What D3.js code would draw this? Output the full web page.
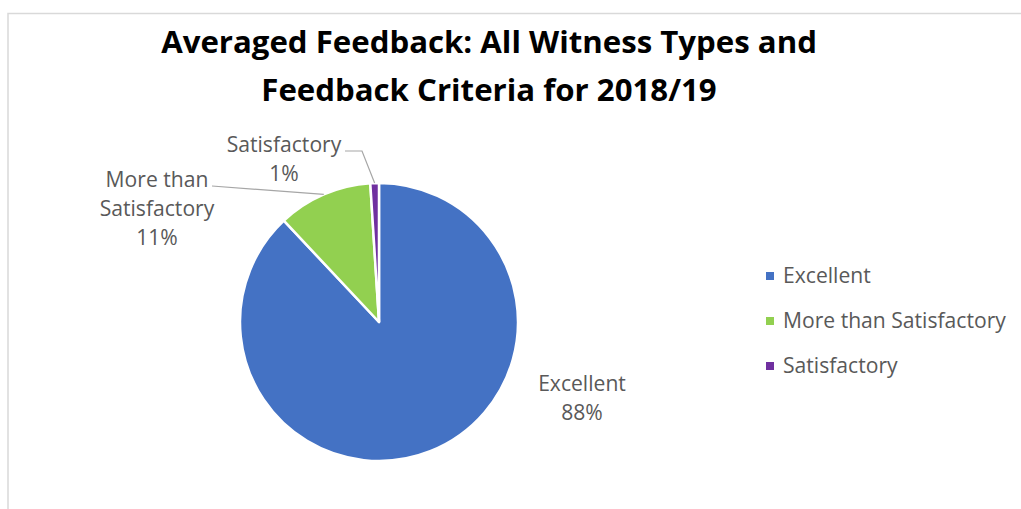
<!DOCTYPE html>
<html>
<head>
<meta charset="utf-8">
<script src="https://cdn.jsdelivr.net/npm/d3@7"></script>
<style>
  body { margin: 0; background: #fff; }
  svg { display: block; }
</style>
</head>
<body>
<div id="chart"></div>
<script>
// chart data
var categories = ["Excellent", "More than Satisfactory", "Satisfactory"];
var values = [88, 11, 1];
var titleLines = ["Averaged Feedback: All Witness Types and", "Feedback Criteria for 2018/19"];
var labelLines = [["Excellent", "88%"], ["More than", "Satisfactory", "11%"], ["Satisfactory", "1%"]];

var width = 1021, height = 509;
var colors = d3.scaleOrdinal().domain(categories).range(["#4472c4", "#92d050", "#7030a0"]);
var font = "'Open Sans', sans-serif";

var svg = d3.select("#chart").append("svg")
  .attr("width", width)
  .attr("height", height);

// pick a font size so a sample string comes out at the wanted width
function fitSize(text, weight, target, base) {
  var t = svg.append("text")
    .style("font-family", font).style("font-weight", weight)
    .style("font-size", base + "px").text(text);
  var w = t.node().getComputedTextLength();
  t.remove();
  return base * target / w;
}
var titleSize = fitSize(titleLines[0], "bold", 656, 30);
var textSize = fitSize("More than Satisfactory", "normal", 223, 19);

// frame (only top and left edges visible in crop)
svg.append("path")
  .attr("d", "M8,509 V13.5 H1021")
  .style("fill", "none")
  .style("stroke", "#d9d9d9")
  .style("stroke-width", 1.5);

// title
var title = svg.append("text")
  .attr("text-anchor", "middle")
  .style("font-family", font)
  .style("font-weight", "bold")
  .style("font-size", titleSize + "px")
  .style("fill", "#000");
title.selectAll("tspan").data(titleLines).enter().append("tspan")
  .attr("x", 489)
  .attr("y", function(d, i) { return 53 + i * 48; })
  .text(function(d) { return d; });

// pie
var cx = 379, cy = 322, r = 139;
var g = svg.append("g").attr("transform", "translate(" + cx + "," + cy + ")");

var pie = d3.pie().sort(null).value(function(d) { return d; });
var arcs = pie(values);
var arc = d3.arc().innerRadius(0).outerRadius(r);

g.selectAll("path.slice").data(arcs).enter().append("path")
  .attr("class", "slice")
  .attr("d", arc)
  .style("fill", function(d, i) { return colors(categories[i]); })
  .style("stroke", "#fff")
  .style("stroke-width", 2.5)
  .style("stroke-linejoin", "round");

// data labels: offsets from pie centre (layout only)
var labelPos = [{dx: 203, dy: 69}, {dx: -222, dy: -135}, {dx: -95, dy: -170}];
var lineH = 29;

var labels = g.selectAll("text.lbl").data(arcs).enter().append("text")
  .attr("class", "lbl")
  .attr("text-anchor", "middle")
  .style("font-family", font)
  .style("font-size", textSize + "px")
  .style("fill", "#595959");
labels.each(function(d, i) {
  var t = d3.select(this);
  labelLines[i].forEach(function(s, j) {
    t.append("tspan")
      .attr("x", labelPos[i].dx)
      .attr("y", labelPos[i].dy + j * lineH)
      .text(s);
  });
});

// leader lines for small slices: from label edge to outer arc at mid-angle
function midPoint(d) {
  var a = (d.startAngle + d.endAngle) / 2;
  return [Math.sin(a) * r, -Math.cos(a) * r];
}
var leaders = [
  {i: 1, pts: function(d) { return [[-167, -136], midPoint(d)]; }},
  {i: 2, pts: function(d) { return [[-34, -171], [-17, -171], midPoint(d)]; }}
];
g.selectAll("path.leader").data(leaders).enter().append("path")
  .attr("class", "leader")
  .attr("d", function(l) { return d3.line()(l.pts(arcs[l.i])); })
  .style("fill", "none")
  .style("stroke", "#a6a6a6")
  .style("stroke-width", 1.2);

// legend
var legend = svg.append("g").attr("transform", "translate(766,276)");
var item = legend.selectAll("g").data(categories).enter().append("g")
  .attr("transform", function(d, i) { return "translate(0," + (i * 45) + ")"; });
item.append("rect")
  .attr("x", 0).attr("y", -4)
  .attr("width", 8).attr("height", 8)
  .style("fill", function(d) { return colors(d); });
item.append("text")
  .attr("x", 17).attr("y", 7)
  .style("font-family", font)
  .style("font-size", textSize + "px")
  .style("fill", "#595959")
  .text(function(d) { return d; });
</script>
</body>
</html>
